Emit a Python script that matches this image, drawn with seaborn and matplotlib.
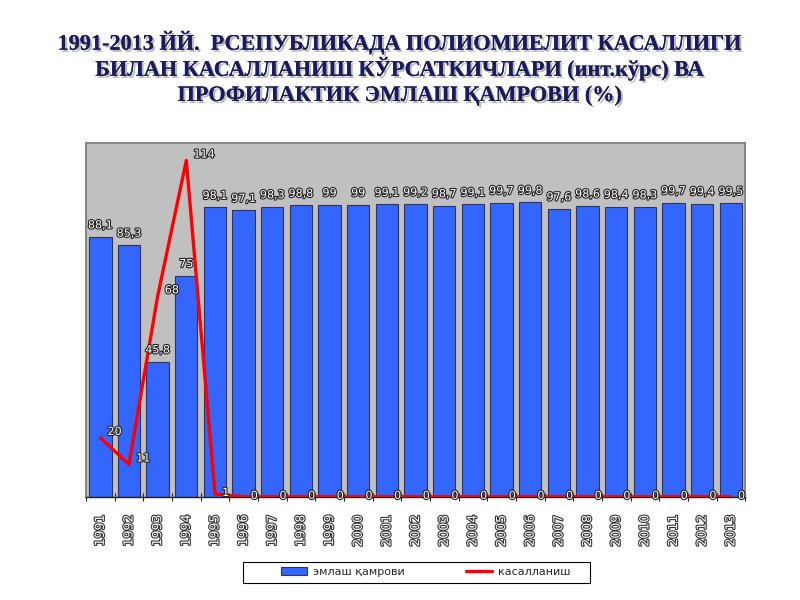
import matplotlib
matplotlib.use("Agg")
import matplotlib.pyplot as plt
import matplotlib.patheffects as pe
from matplotlib.patches import Rectangle
import seaborn as sns
import numpy as np
import pandas as pd

years = [str(y) for y in range(1991, 2014)]
coverage = [88.1, 85.3, 45.8, 75, 98.1, 97.1, 98.3, 98.8, 99, 99, 99.1, 99.2,
            98.7, 99.1, 99.7, 99.8, 97.6, 98.6, 98.4, 98.3, 99.7, 99.4, 99.5]
coverage_labels = ["88,1", "85,3", "45,8", "75", "98,1", "97,1", "98,3", "98,8",
                   "99", "99", "99,1", "99,2", "98,7", "99,1", "99,7", "99,8",
                   "97,6", "98,6", "98,4", "98,3", "99,7", "99,4", "99,5"]
incidence = [20, 11, 68, 114, 1, 0, 0, 0, 0, 0, 0, 0, 0, 0, 0, 0, 0, 0, 0, 0, 0, 0, 0]
incidence_labels = [str(v) for v in incidence]

title_lines = ["1991-2013 ЙЙ.  РСЕПУБЛИКАДА ПОЛИОМИЕЛИТ КАСАЛЛИГИ",
               "БИЛАН КАСАЛЛАНИШ КЎРСАТКИЧЛАРИ (инт.кўрс) ВА",
               "ПРОФИЛАКТИК ЭМЛАШ ҚАМРОВИ (%)"]
legend_labels = ["эмлаш қамрови", "касалланиш"]

sns.set_theme(style="white")
plt.rcParams['font.family'] = ['DejaVu Sans']

df = pd.DataFrame({"year": years, "coverage": coverage})

fig = plt.figure(figsize=(8, 6), dpi=100)
ax = fig.add_axes([0.1075, 0.172, 0.824, 0.59])
ax.set_facecolor("#C0C0C0")

sns.barplot(data=df, x="year", y="coverage", color="#3366FF", saturation=1,
            width=0.78, edgecolor="#333355", linewidth=0.8, ax=ax,
            label=legend_labels[0], legend=False)

xs = np.arange(len(years))
line, = ax.plot(xs, incidence, color="#FF0000", linewidth=2.4,
                label=legend_labels[1], zorder=5)

outline = [pe.withStroke(linewidth=1.6, foreground="#222222")]
for i, (v, lab) in enumerate(zip(coverage, coverage_labels)):
    ax.text(i, v + 2.2, lab, ha="center", va="bottom", fontsize=8,
            color="white", path_effects=outline, zorder=6)
for i, (v, lab) in enumerate(zip(incidence, incidence_labels)):
    ax.text(i + 0.25, v + (2 if v > 5 else 0.3), lab, ha="left", va="center",
            fontsize=8, color="white", path_effects=outline, zorder=7)

ax.set_ylim(0, 120)
ax.set_xlim(-0.5, len(years) - 0.5)
ax.set_yticks([])
ax.set_xlabel("")
ax.set_ylabel("")
ax.set_xticks(xs)
ax.set_xticklabels(years, rotation=90, fontsize=9, color="white")
for t in ax.get_xticklabels():
    t.set_path_effects([pe.withStroke(linewidth=1.6, foreground="#333333")])
ax.set_xticks(np.arange(-0.5, len(years), 1), minor=True)
ax.tick_params(axis="x", which="major", length=0, pad=13)
ax.tick_params(axis="x", which="minor", length=6, direction="inout",
               color="#222222", width=0.8, bottom=True)

for s in ["left", "top", "right"]:
    ax.spines[s].set_color("#888888")
    ax.spines[s].set_linewidth(1.5)
ax.spines["bottom"].set_color("#222222")
ax.spines["bottom"].set_linewidth(1.0)

# legend frame box
fig.patches.append(Rectangle((243 / 800, 1 - 583 / 600), 347 / 800, 21 / 600,
                             transform=fig.transFigure, facecolor="white",
                             edgecolor="black", linewidth=0.8, zorder=1))
bar_handle = ax.patches[0]
leg = fig.legend([bar_handle, line], legend_labels, loc="center",
                 bbox_to_anchor=(0.532, 0.047), ncol=2,
                 frameon=False, fontsize=8, handlelength=2.4,
                 handletextpad=0.5, columnspacing=5.5)

ys = [0.928, 0.885, 0.84]
for y, txt in zip(ys, title_lines):
    fig.text(0.5, y, txt, ha="center", va="center", fontsize=16,
             fontweight="bold", family="Liberation Serif", color="#1A1A5E",
             path_effects=[pe.withSimplePatchShadow(offset=(1.5, -1.5),
                                                    shadow_rgbFace="#999999",
                                                    alpha=0.7), pe.Normal()])

fig.savefig("out.png", dpi=100, facecolor="white")
